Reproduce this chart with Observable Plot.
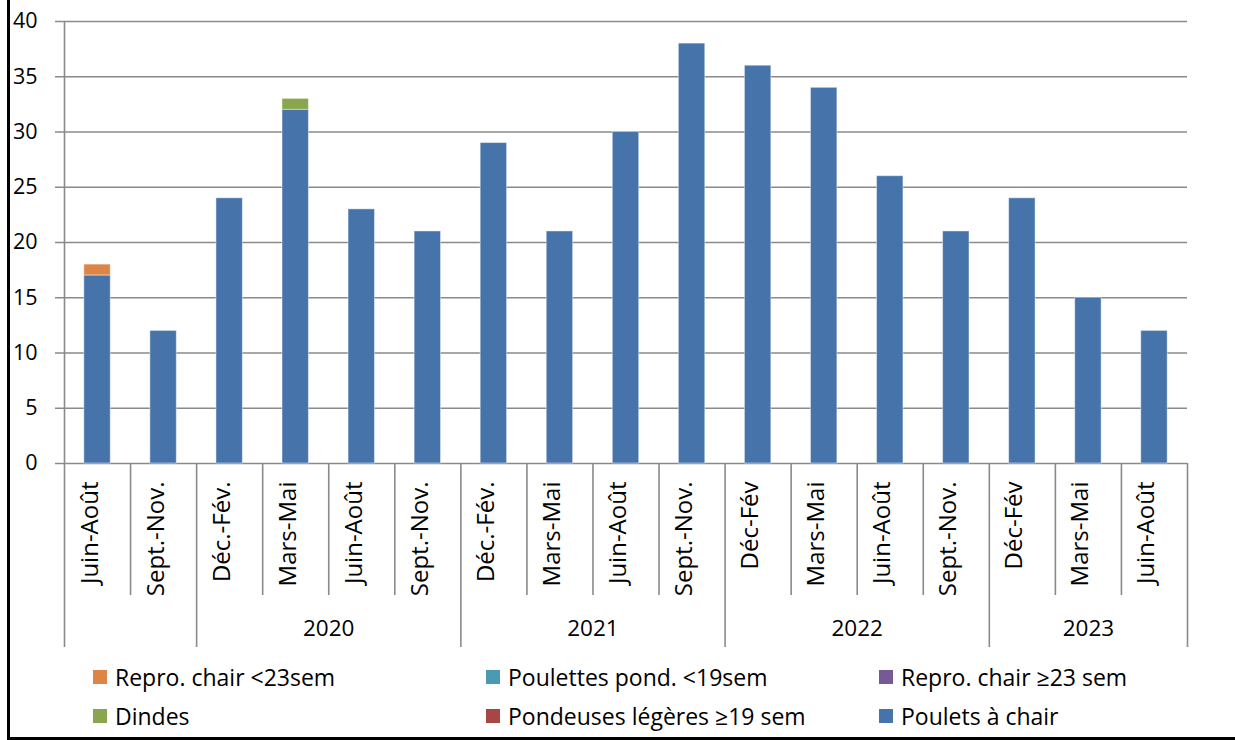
<!DOCTYPE html>
<html><head><meta charset="utf-8">
<script src="https://cdn.jsdelivr.net/npm/d3@7"></script>
<script src="https://cdn.jsdelivr.net/npm/@observablehq/plot@0.6"></script>
<style>
body{margin:0;background:#fff;}
#wrap{position:relative;width:1235px;height:740px;overflow:hidden;background:#fff;font-family:"Open Sans", Lato, sans-serif;color:#000;}
#frame{position:absolute;left:7px;top:-10px;width:1300px;height:750px;border-left:3px solid #000;border-bottom:3px solid #000;box-sizing:border-box;pointer-events:none;}
#chart{position:absolute;left:0;top:0;}
#legend{position:absolute;left:93px;top:657px;display:grid;grid-template-columns:393px 393px auto;grid-auto-rows:39px;font-size:23px;}
#legend .item{display:flex;align-items:center;white-space:nowrap;}
#legend .sw{display:inline-block;width:14px;height:14px;margin-right:8px;}
</style>
</head><body>
<div id="wrap"><div id="chart"></div><div id="legend"></div><div id="frame"></div></div>
<script>
const categories = ["Juin-Août","Sept.-Nov.","Déc.-Fév.","Mars-Mai","Juin-Août","Sept.-Nov.","Déc.-Fév.","Mars-Mai","Juin-Août","Sept.-Nov.","Déc-Fév","Mars-Mai","Juin-Août","Sept.-Nov.","Déc-Fév","Mars-Mai","Juin-Août"];
const years = ["","","2020","2020","2020","2020","2021","2021","2021","2021","2022","2022","2022","2022","2023","2023","2023"];
const yTicks = [0,5,10,15,20,25,30,35,40];

const seriesNames = ["Repro. chair <23sem","Poulettes pond. <19sem","Repro. chair ≥23 sem","Dindes","Pondeuses légères ≥19 sem","Poulets à chair"];
const seriesColors = ["#DD8447","#4A9AB3","#765A97","#89A54E","#A94544","#4674AA"];
const reproChairMoins23 = [1,0,0,0,0,0,0,0,0,0,0,0,0,0,0,0,0];
const poulettesPond = [0,0,0,0,0,0,0,0,0,0,0,0,0,0,0,0,0];
const reproChairPlus23 = [0,0,0,0,0,0,0,0,0,0,0,0,0,0,0,0,0];
const dindes = [0,0,0,1,0,0,0,0,0,0,0,0,0,0,0,0,0];
const pondeusesLegeres = [0,0,0,0,0,0,0,0,0,0,0,0,0,0,0,0,0];
const pouletsChair = [17,12,24,32,23,21,29,21,30,38,36,34,26,21,24,15,12];
const seriesValues = [reproChairMoins23, poulettesPond, reproChairPlus23, dindes, pondeusesLegeres, pouletsChair];
const stackOrder = ["Poulets à chair","Dindes","Pondeuses légères ≥19 sem","Repro. chair ≥23 sem","Poulettes pond. <19sem","Repro. chair <23sem"];

const n = categories.length;
const rows = [];
seriesNames.forEach((s, k) => seriesValues[k].forEach((v, i) => { if (v > 0) rows.push({i, series: s, value: v}); }));
const cats = categories.map((c, i) => ({i, label: c}));
const groups = [];
years.forEach((y, i) => {
  const last = groups[groups.length - 1];
  if (!last || last.year !== y) groups.push({year: y, start: i, end: i + 1});
  else last.end = i + 1;
});
const bounds = d3.range(n + 1).map(b => ({b, long: b === n || groups.some(g => g.start === b)}));

const grid = "#8a8a8a";
const font = "'Open Sans', Lato, sans-serif";
const chart = Plot.plot({
  width: 1235, height: 656,
  marginTop: 21, marginBottom: 193, marginLeft: 64, marginRight: 48,
  x: {type: "linear", domain: [0, n], axis: null},
  y: {domain: [0, 40], axis: null},
  color: {domain: seriesNames, range: seriesColors},
  style: {fontFamily: font, fontSize: "21px", color: "#000", background: "transparent", overflow: "visible"},
  marks: [
    Plot.ruleY(yTicks, {y: d => d, stroke: grid, strokeWidth: 1.6, insetLeft: -9}),
    Plot.rectY(rows, Plot.stackY({order: stackOrder}, {x: "i", x1: d => d.i + 0.3, x2: d => d.i + 0.7, y: "value", fill: "series", stroke: "#fff", strokeOpacity: 0.45, strokeWidth: 1})),
    Plot.axisY(yTicks, {tickSize: 0, tickPadding: 27, fontSize: 21.5, label: null, fill: "#000"}),
    Plot.ruleX([0], {x: d => d, stroke: grid, strokeWidth: 1.6, insetBottom: -184}),
    Plot.ruleX(bounds.filter(d => !d.long), {x: "b", stroke: grid, strokeWidth: 1.6, insetTop: 442, insetBottom: -132}),
    Plot.ruleX(bounds.filter(d => d.long && d.b > 0), {x: "b", stroke: grid, strokeWidth: 1.6, insetTop: 442, insetBottom: -184}),
    Plot.text(cats, {x: d => d.i + 0.5, text: "label", frameAnchor: "bottom", rotate: -90, textAnchor: "end", dy: 18, fontSize: 24, fill: "#000"}),
    Plot.text(groups.filter(g => g.year), {x: g => (g.start + g.end) / 2, text: "year", frameAnchor: "bottom", dy: 172, fontSize: 22.5, fill: "#000"})
  ]
});
document.getElementById("chart").appendChild(chart);

const legend = document.getElementById("legend");
seriesNames.forEach((s, k) => {
  const it = document.createElement("div");
  it.className = "item";
  const sw = document.createElement("span");
  sw.className = "sw";
  sw.style.background = seriesColors[k];
  it.appendChild(sw);
  it.appendChild(document.createTextNode(s));
  legend.appendChild(it);
});
</script>
</body></html>
